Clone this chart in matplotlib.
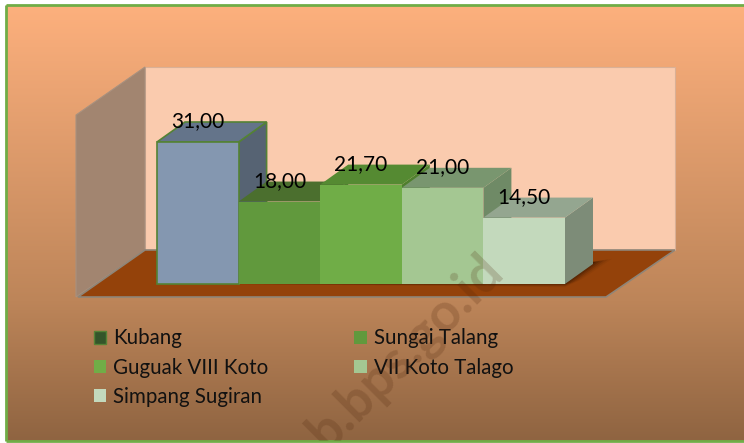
import numpy as np
import matplotlib
matplotlib.use("Agg")
import matplotlib.pyplot as plt
from matplotlib.colors import LinearSegmentedColormap
from matplotlib.patches import Polygon, Patch, Rectangle

plt.rcParams['font.family'] = ['Lato', 'DejaVu Sans']

# data
categories = ["Kubang", "Sungai Talang", "Guguak VIII Koto", "VII Koto Talago", "Simpang Sugiran"]
values = [31.00, 18.00, 21.70, 21.00, 14.50]
labels = ["31,00", "18,00", "21,70", "21,00", "14,50"]

# colours of each bar face
front = ["#8497b0", "#61993d", "#70ad47", "#a4c792", "#c3d9bc"]
top = ["#64748a", "#4b6f2e", "#558a32", "#79966f", "#94a690"]
side = ["#566373", "#4b6f2e", "#4f7f2e", "#6f8a66", "#7d8c78"]
legend_cols = ["#34552a", "#61993d", "#70ad47", "#a4c792", "#c3d9bc"]

W, H = 744, 443
fig = plt.figure(figsize=(W/100, H/100), dpi=100, facecolor="white")

# background layer, in pixels
bg = fig.add_axes([0, 0, 1, 1], zorder=0)
bg.set_xlim(0, W)
bg.set_ylim(H, 0)
bg.axis("off")

cmap = LinearSegmentedColormap.from_list("bg", [(0, "#fdb07d"), (0.68, "#bd8559"), (1, "#8f6441")])
grad = np.linspace(0, 1, 256).reshape(-1, 1)
bg.imshow(grad, cmap=cmap, extent=[6, W, 441, 5], aspect="auto")
bg.set_xlim(0, W)
bg.set_ylim(H, 0)

# walls and floor
bg.add_patch(Polygon([(145, 67), (675, 67), (675, 250), (145, 250)], fc="#facbae", ec="#d9b096", lw=0.8))
bg.add_patch(Polygon([(76, 115), (145, 67), (145, 250), (76, 297)], fc="#a28570", ec="#a8917f", lw=0.8))
bg.add_patch(Polygon([(78, 297), (145, 250), (675, 250), (606, 297)], fc="#94420a", ec="#8f8578", lw=1.2))

# soft shadow of the bars on the floor
for grow, a in zip([0, 4, 8, 12, 16], [0.30, 0.22, 0.16, 0.10, 0.06]):
    bg.add_patch(Polygon([(235, 284), (565, 284 + grow*0.2), (566 + grow, 284 - grow*0.3), (596 + grow, 262 - grow*0.2), (590, 262)],
                         fc="#2a1000", ec="none", alpha=a))

# border
bg.plot([6, 6], [5, 441], color="#70ad47", lw=2, solid_capstyle="butt")
bg.plot([6, W], [5, 5], color="#70ad47", lw=2, solid_capstyle="butt")
bg.plot([6, W], [441, 441], color="#70ad47", lw=2, solid_capstyle="butt")

# bars, axes box is the front face of the highest bar row
ax = fig.add_axes([157/W, 1 - 284/H, 408/W, 142/H], zorder=1)
ax.patch.set_alpha(0)
ax.axis("off")
ax.set_xlim(0, len(values))
ax.set_ylim(0, max(values))

dx = 28 / (408/5)
dy = 20 / (142/31)

for i, v in enumerate(values):
    edge = "#548235" if i == 0 else "none"
    ax.add_patch(Polygon([(i+1, 0), (i+1+dx, dy), (i+1+dx, v+dy), (i+1, v)], fc=side[i], ec=edge, lw=1.2, clip_on=False, zorder=2+i))
    ax.add_patch(Polygon([(i, v), (i+dx, v+dy), (i+1+dx, v+dy), (i+1, v)], fc=top[i], ec=edge, lw=1.2, clip_on=False, zorder=2+i))
    ax.bar(i, v, width=1, align="edge", color=front[i], edgecolor=edge, lw=1.2, clip_on=False, zorder=2+i)

for i, v in enumerate(values):
    ax.text(i+0.5, v + 4.5, labels[i], ha="center", va="center", fontsize=15, color="black", zorder=20)

# legend fills column by column
order = [0, 2, 4, 1, 3]
handles = [Patch(fc=legend_cols[i], ec="#548235" if i == 0 else "none", label=categories[i]) for i in order]
bg.legend(handles=handles, loc="upper left", bbox_to_anchor=(75/W, 1 - 310/H), ncol=2, frameon=False,
          fontsize=14.8, handlelength=0.62, handleheight=0.62, handletextpad=0.32, columnspacing=4.2,
          labelspacing=0.44, labelcolor="#111111")

# watermark over everything
wm = fig.text(495/W, 1 - 262/H, "b.bps.go.id", rotation=45, rotation_mode="anchor", ha="right", va="center",
              fontsize=38, fontweight="bold", color="#4a2208", alpha=0.2, zorder=5)
wm.set_clip_path(Rectangle((6, 2), W, 436, transform=None))

fig.savefig("out.png", dpi=100)
